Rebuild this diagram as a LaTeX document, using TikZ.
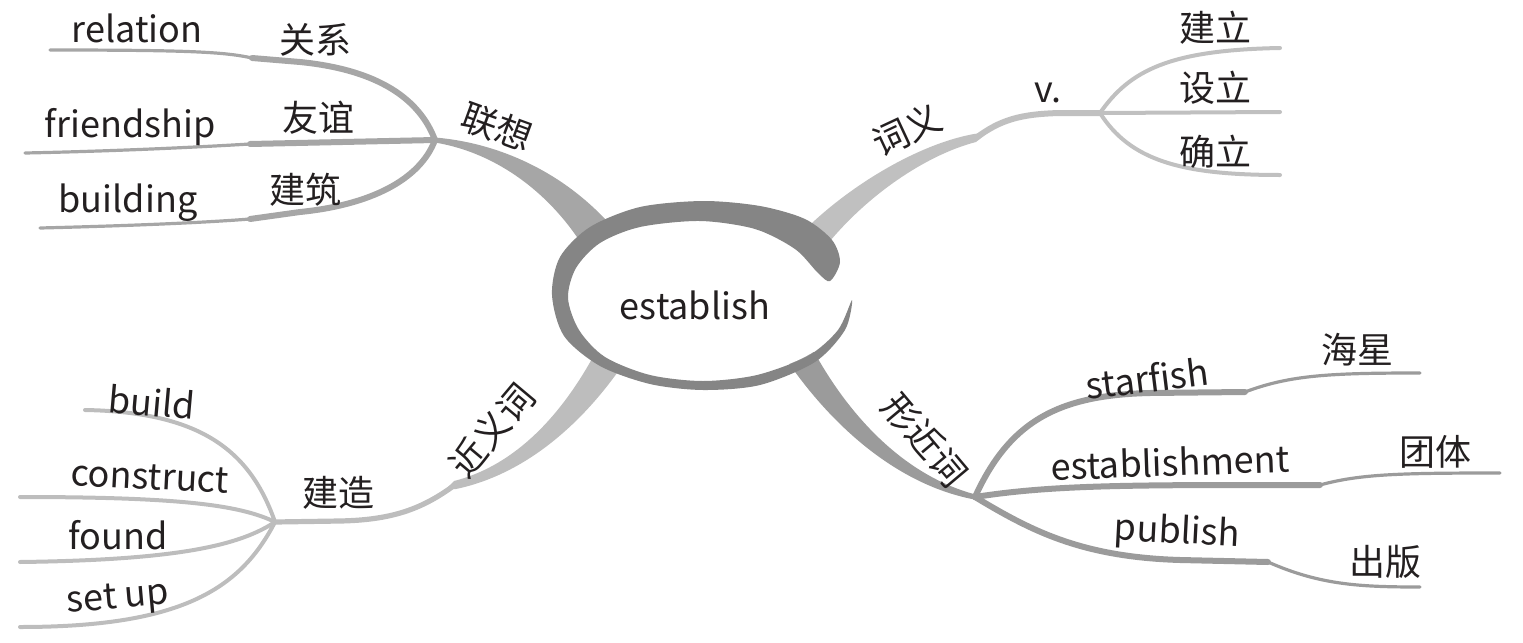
\documentclass[tikz,border=0pt]{standalone}
\usepackage{fontspec}
\setmainfont{Noto Sans CJK SC}
\definecolor{txt}{HTML}{231F20}
\definecolor{ringc}{HTML}{858585}
\definecolor{tlc}{HTML}{A6A6A6}
\definecolor{trc}{HTML}{C0C0C0}
\definecolor{blc}{HTML}{BDBDBD}
\definecolor{brc}{HTML}{9B9B9B}
\begin{document}
\begin{tikzpicture}[x=0.5pt,y=-0.5pt,
  lbl/.style={font=\fontsize{18}{20}\selectfont, text=txt, inner sep=0pt},
  thickseg/.style={line width=3pt, line cap=round},
  thinseg/.style={line width=1.6pt, line cap=round},
  midseg/.style={line width=2pt, line cap=round}]
\useasboundingbox (0,0) rectangle (1523,643);

% ---------- coordinates ----------
\coordinate (jTL) at (435,140);
\coordinate (kRel) at (252,58);  \coordinate (eRel) at (50,50);
\coordinate (kFri) at (250,144); \coordinate (eFri) at (25,153);
\coordinate (kBui) at (250,219); \coordinate (eBui) at (40,228);

\coordinate (tTR) at (976,138);
\coordinate (jTR) at (1100,113);
\coordinate (eJL) at (1280,48);
\coordinate (eSL) at (1280,112);
\coordinate (eQL) at (1280,175);

\coordinate (tBL) at (452,487);
\coordinate (jBL) at (275,522);
\coordinate (eBd) at (85,410);
\coordinate (eCo) at (20,497);
\coordinate (eFo) at (20,562);
\coordinate (eSe) at (20,627);

\coordinate (jBR) at (975,497);
\coordinate (kSt) at (1245,392); \coordinate (eSt) at (1420,373);
\coordinate (kEs) at (1320,485); \coordinate (eEs) at (1500,473);
\coordinate (kPu) at (1268,562); \coordinate (ePu) at (1420,587);

% ---------- trunks ----------
\fill[tlc] (614,229) .. controls (567,174) and (501,143) .. (435,137.5)
  -- (434.7,142.5) .. controls (499,153) and (553,196) .. (586,251) -- cycle;
\fill[trc] (794,241) .. controls (843,188) and (918,144) .. (974,134)
  -- (988,132) -- (976,142) .. controls (922,156) and (857,202) .. (816,259) -- cycle;
\fill[blc] (617,373) .. controls (578,427) and (523,475) .. (456,489)
  -- (446,489) -- (454,481) .. controls (517,465) and (562,413) .. (593,357) -- cycle;
\fill[brc] (812,348) .. controls (847,413) and (902,475) .. (975.5,494.5)
  -- (974.5,499.5) .. controls (898,485) and (833,427) .. (788,362) -- cycle;

% ---------- top-left branches ----------
\draw[tlc,thickseg] (jTL) .. controls (420,100) and (380,70) .. (300,62) -- (kRel);
\draw[tlc,thinseg] (kRel) .. controls (225,52) and (190,50) .. (eRel);
\draw[tlc,thickseg] (jTL) -- (kFri);
\draw[tlc,thinseg] (kFri) .. controls (200,147) and (120,151) .. (eFri);
\draw[tlc,thickseg] (jTL) .. controls (420,180) and (370,205) .. (300,212) -- (kBui);
\draw[tlc,thinseg] (kBui) .. controls (200,223) and (120,226) .. (eBui);

% ---------- top-right branches ----------
\draw[trc,line width=3pt] (tTR) .. controls (1000,120) and (1020,114) .. (1060,113) -- (jTR);
\draw[trc,midseg] (jTR) .. controls (1130,70) and (1170,50) .. (eJL);
\draw[trc,midseg] (jTR) -- (eSL);
\draw[trc,midseg] (jTR) .. controls (1130,160) and (1180,175) .. (eQL);

% ---------- bottom-left branches ----------
\draw[blc,line width=2.6pt] (tBL) .. controls (420,510) and (390,520) .. (340,521) -- (jBL);
\draw[blc,midseg] (jBL) .. controls (250,450) and (200,412) .. (eBd);
\draw[blc,midseg] (jBL) .. controls (240,505) and (180,497) .. (eCo);
\draw[blc,midseg] (jBL) .. controls (240,545) and (180,560) .. (eFo);
\draw[blc,midseg] (jBL) .. controls (240,590) and (180,627) .. (eSe);

% ---------- bottom-right branches ----------
\draw[brc,thickseg] (jBR) .. controls (1010,420) and (1060,395) .. (1150,393) -- (kSt);
\draw[brc,thinseg] (kSt) .. controls (1290,375) and (1330,373) .. (eSt);
\draw[brc,thickseg] (jBR) .. controls (1040,487) and (1100,485) .. (1245,485) -- (kEs);
\draw[brc,thinseg] (kEs) .. controls (1360,474) and (1400,473) .. (eEs);
\draw[brc,thickseg] (jBR) .. controls (1030,530) and (1080,557) .. (1180,560) -- (kPu);
\draw[brc,thinseg] (kPu) .. controls (1320,585) and (1360,587) .. (ePu);

% ---------- centre ring ----------
\fill[white] (708,302) ellipse [x radius=140, y radius=76];
\fill[ringc] plot[smooth cycle, tension=0.5] coordinates {
  (840,262) (832,240) (805,219) (760,206) (703,201) (640,207) (590,227)
  (560,257) (552,295) (564,336) (600,366) (650,384) (703,390) (760,385)
  (815,362) (845,330) (852,300)
  (838,330) (808,356) (757,375) (703,381) (650,375) (605,357) (579,330)
  (568,298) (576,268) (600,243) (640,227) (700,221) (755,229) (795,249)
  (818,273) (830,281)};

% ---------- labels ----------
\node[lbl] (center) at (695,305) {establish};
\node[lbl,rotate=-20] (lx) at (497,127) {联想};
\node[lbl] (relation) at (137,28) {relation};
\node[lbl] (gx) at (315,40) {关系};
\node[lbl] (friendship) at (130,127) {friendship};
\node[lbl] (yy) at (318,118) {友谊};
\node[lbl] (building) at (128,203) {building};
\node[lbl] (jz) at (305,190) {建筑};

\node[lbl,rotate=25] (cy) at (907,130) {词义};
\node[lbl] (v) at (1048,93) {v.};
\node[lbl] (jl) at (1215,28) {建立};
\node[lbl] (sl) at (1215,88) {设立};
\node[lbl] (ql) at (1215,152) {确立};

\node[lbl,rotate=50] (jyc) at (492,430) {近义词};
\node[lbl] (jzao) at (338,493) {建造};
\node[lbl,rotate=-5] (build) at (152,402) {build};
\node[lbl,rotate=-3] (construct) at (150,477) {construct};
\node[lbl] (found) at (118,535) {found};
\node[lbl,rotate=5] (setup) at (118,600) {set up};

\node[lbl,rotate=-50] (xjc) at (925,440) {形近词};
\node[lbl,rotate=7] (starfish) at (1147,378) {starfish};
\node[lbl,rotate=2] (estm) at (1170,462) {establishment};
\node[lbl,rotate=-3] (publish) at (1177,533) {publish};
\node[lbl] (hx) at (1357,350) {海星};
\node[lbl] (tt) at (1435,452) {团体};
\node[lbl] (cb) at (1385,562) {出版};
\end{tikzpicture}
\end{document}
